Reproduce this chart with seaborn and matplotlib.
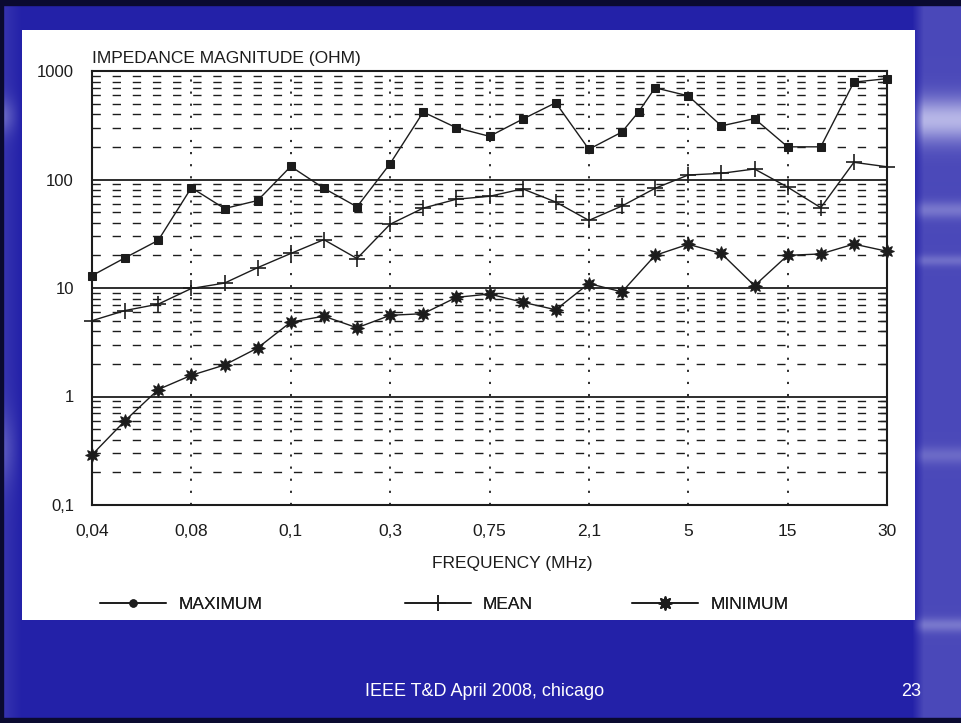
import numpy as np
import pandas as pd
import matplotlib
matplotlib.use("Agg")
import matplotlib.pyplot as plt
from matplotlib.lines import Line2D
from matplotlib.ticker import LogLocator, NullFormatter, FixedLocator
import seaborn as sns

# =============================================================================
# Impedance magnitude vs frequency (scanned chart on a blue slide)
# x axis: 9 labelled frequencies, equally spaced, 3 measurement steps between each
# =============================================================================

freq_labels = ["0,04", "0,08", "0,1", "0,3", "0,75", "2,1", "5", "15", "30"]
freq_steps = [0, 3, 6, 9, 12, 15, 18, 21, 24]
y_ticks = [0.1, 1, 10, 100, 1000]
y_labels = ["0,1", "1", "10", "100", "1000"]

# MAXIMUM (one extra reading between 2,1 and 5 MHz)
max_step = [0, 1, 2, 3, 4, 5, 6, 7, 8, 9, 10, 11, 12, 13, 14, 15, 16, 16.5, 17,
            18, 19, 20, 21, 22, 23, 24]
max_ohm = [13, 19, 27.5, 84, 54, 64, 132, 83, 56, 140, 418, 300, 250, 360, 510,
           190, 274, 420, 700, 590, 312, 364, 200, 200, 790, 850]

# MEAN
mean_step = [0, 1, 2, 3, 4, 5, 6, 7, 8, 9, 10, 11, 12, 13, 14, 15, 16, 17, 18,
             19, 20, 21, 22, 23, 24]
mean_ohm = [5.0, 6.2, 7.1, 9.9, 11.1, 15.4, 20.8, 27.9, 18.7, 38.7, 54.5, 65.8,
            70, 82, 62, 42, 57, 83, 110, 114, 125, 85, 55, 144, 131]

# MINIMUM
min_step = [0, 1, 2, 3, 4, 5, 6, 7, 8, 9, 10, 11, 12, 13, 14, 15, 16, 17, 18,
            19, 20, 21, 22, 23, 24]
min_ohm = [0.29, 0.60, 1.16, 1.57, 1.95, 2.8, 4.85, 5.5, 4.3, 5.6, 5.8, 8.2,
           8.8, 7.4, 6.3, 11, 9.2, 20, 25.3, 20.8, 10.5, 20, 20.6, 25.4, 21.8]

df_max = pd.DataFrame({"step": max_step, "ohm": max_ohm})
df_mean = pd.DataFrame({"step": mean_step, "ohm": mean_ohm})
df_min = pd.DataFrame({"step": min_step, "ohm": min_ohm})

sns.set_theme(style="white")
plt.rcParams["font.family"] = ["Liberation Sans", "DejaVu Sans"]

ink = "#1c1c1c"
W, H = 961, 723
fig = plt.figure(figsize=(W / 100, H / 100), dpi=100)

# --- slide background: dark blue, lighter streaky strip on the right ---
bg = fig.add_axes([0, 0, 1, 1], zorder=-10)
yy, xx = np.mgrid[0:1:723j, 0:1:961j]
base = np.array([0.14, 0.13, 0.66])
light = np.array([0.84, 0.84, 0.96])
right = np.clip((xx - 0.95) / 0.012, 0, 1)
streak = (0.22 + 0.60 * np.exp(-((yy - 0.165) / 0.03) ** 2)
          + 0.25 * np.exp(-((yy - 0.29) / 0.012) ** 2)
          + 0.20 * np.exp(-((yy - 0.36) / 0.008) ** 2)
          + 0.18 * np.exp(-((yy - 0.63) / 0.012) ** 2)
          + 0.25 * np.exp(-((yy - 0.865) / 0.01) ** 2))
left = np.clip((0.022 - xx) / 0.022, 0, 1) * (
    0.12 + 0.35 * np.exp(-((yy - 0.16) / 0.025) ** 2)
    + 0.25 * np.exp(-((yy - 0.62) / 0.05) ** 2))
mix = np.clip(right * streak + left, 0, 1)[..., None]
img = base * (1 - mix) + light * mix
bg.imshow(img, aspect="auto", extent=[0, 1, 0, 1], origin="upper")
bg.axis("off")
for y0, h in [(0, 5 / H), (1 - 5 / H, 5 / H)]:
    bg.axhspan(y0, y0 + h, color="#0a0a30", zorder=3)
bg.axvspan(0, 3 / W, color="#0a0a30", zorder=3)
bg.set_xlim(0, 1)
bg.set_ylim(0, 1)

# white scanned panel
panel = fig.add_axes([22 / W, 1 - 620 / H, 893 / W, 590 / H], zorder=-5)
panel.set_facecolor("white")
panel.set_xticks([])
panel.set_yticks([])
for s in panel.spines.values():
    s.set_visible(False)

# --- main chart ---
ax = fig.add_axes([92 / W, 1 - 505 / H, 795 / W, 434 / H], zorder=1)
ax.set_facecolor("none")
ax.set_yscale("log")
ax.set_ylim(0.1, 1000)
ax.set_xlim(0, 24)

ax.yaxis.set_major_locator(FixedLocator(y_ticks))
ax.set_yticklabels(y_labels)
ax.yaxis.set_minor_locator(LogLocator(base=10, subs=[2, 3, 4, 5, 6, 7, 8, 9]))
ax.yaxis.set_minor_formatter(NullFormatter())
ax.set_xticks(freq_steps)
ax.set_xticklabels(freq_labels)

ax.grid(which="major", axis="y", color=ink, lw=1.3, ls="-")
ax.grid(which="minor", axis="y", color=ink, lw=1.0, ls=(0, (6, 8.5)))
ax.grid(which="major", axis="x", color=ink, lw=1.3, ls=(0, (1.2, 5.5)))
ax.set_axisbelow(True)

for s in ax.spines.values():
    s.set_visible(True)
    s.set_color(ink)
    s.set_linewidth(1.5)

ax.tick_params(axis="x", which="both", length=0, pad=14, labelsize=12.5, labelcolor=ink)
ax.tick_params(axis="y", which="major", length=0, pad=13, labelsize=12, labelcolor=ink)
ax.tick_params(axis="y", which="minor", left=False, right=True, direction="in",
               length=5, width=1.0, color=ink)

sns.lineplot(data=df_max, x="step", y="ohm", ax=ax, color=ink, lw=1.0,
             marker="s", markersize=6, markeredgecolor=ink, clip_on=False,
             legend=False)
sns.lineplot(data=df_mean, x="step", y="ohm", ax=ax, color=ink, lw=1.0,
             marker="+", markersize=12, markeredgewidth=1.2, markeredgecolor=ink,
             clip_on=False, legend=False)
sns.lineplot(data=df_min, x="step", y="ohm", ax=ax, color=ink, lw=1.0,
             marker=(8, 1, 0), markersize=10, markeredgecolor=ink, clip_on=False,
             legend=False)

ax.set_ylabel("")
ax.set_xlabel("FREQUENCY (MHz)", fontsize=12.5, color=ink)
ax.xaxis.set_label_coords((512 - 92) / 795, -(556 - 505) / 434)
ax.text(0.0, 1.012, "IMPEDANCE MAGNITUDE (OHM)", transform=ax.transAxes,
        ha="left", va="bottom", fontsize=12.5, color=ink)

# --- legend: three separate entries spread along the bottom of the panel ---
entries = [
    (Line2D([], [], color=ink, lw=1.2, marker="o", markersize=5), "MAXIMUM", 100),
    (Line2D([], [], color=ink, lw=1.2, marker="+", markersize=12,
            markeredgewidth=1.2), "MEAN", 405),
    (Line2D([], [], color=ink, lw=1.2, marker=(8, 1, 0), markersize=10),
     "MINIMUM", 632),
]
for handle, label, xpix in entries:
    leg = fig.legend([handle], [label], loc="center left",
                     bbox_to_anchor=(xpix / W, 1 - 604 / H), frameon=False,
                     borderpad=0, borderaxespad=0, handlelength=3.8,
                     handletextpad=0.7, fontsize=12.5, labelcolor=ink)
    fig.add_artist(leg)

# --- slide footer ---
footer_font = ["Liberation Sans Narrow", "Liberation Sans", "DejaVu Sans"]
fig.text(485 / W, 1 - 692 / H, "IEEE T&D April 2008, chicago", color="white",
         fontsize=13, ha="center", va="center", family=footer_font)
fig.text(911 / W, 1 - 692 / H, "23", color="white", fontsize=13,
         ha="center", va="center", family=footer_font)

fig.savefig("out.png", dpi=100)
